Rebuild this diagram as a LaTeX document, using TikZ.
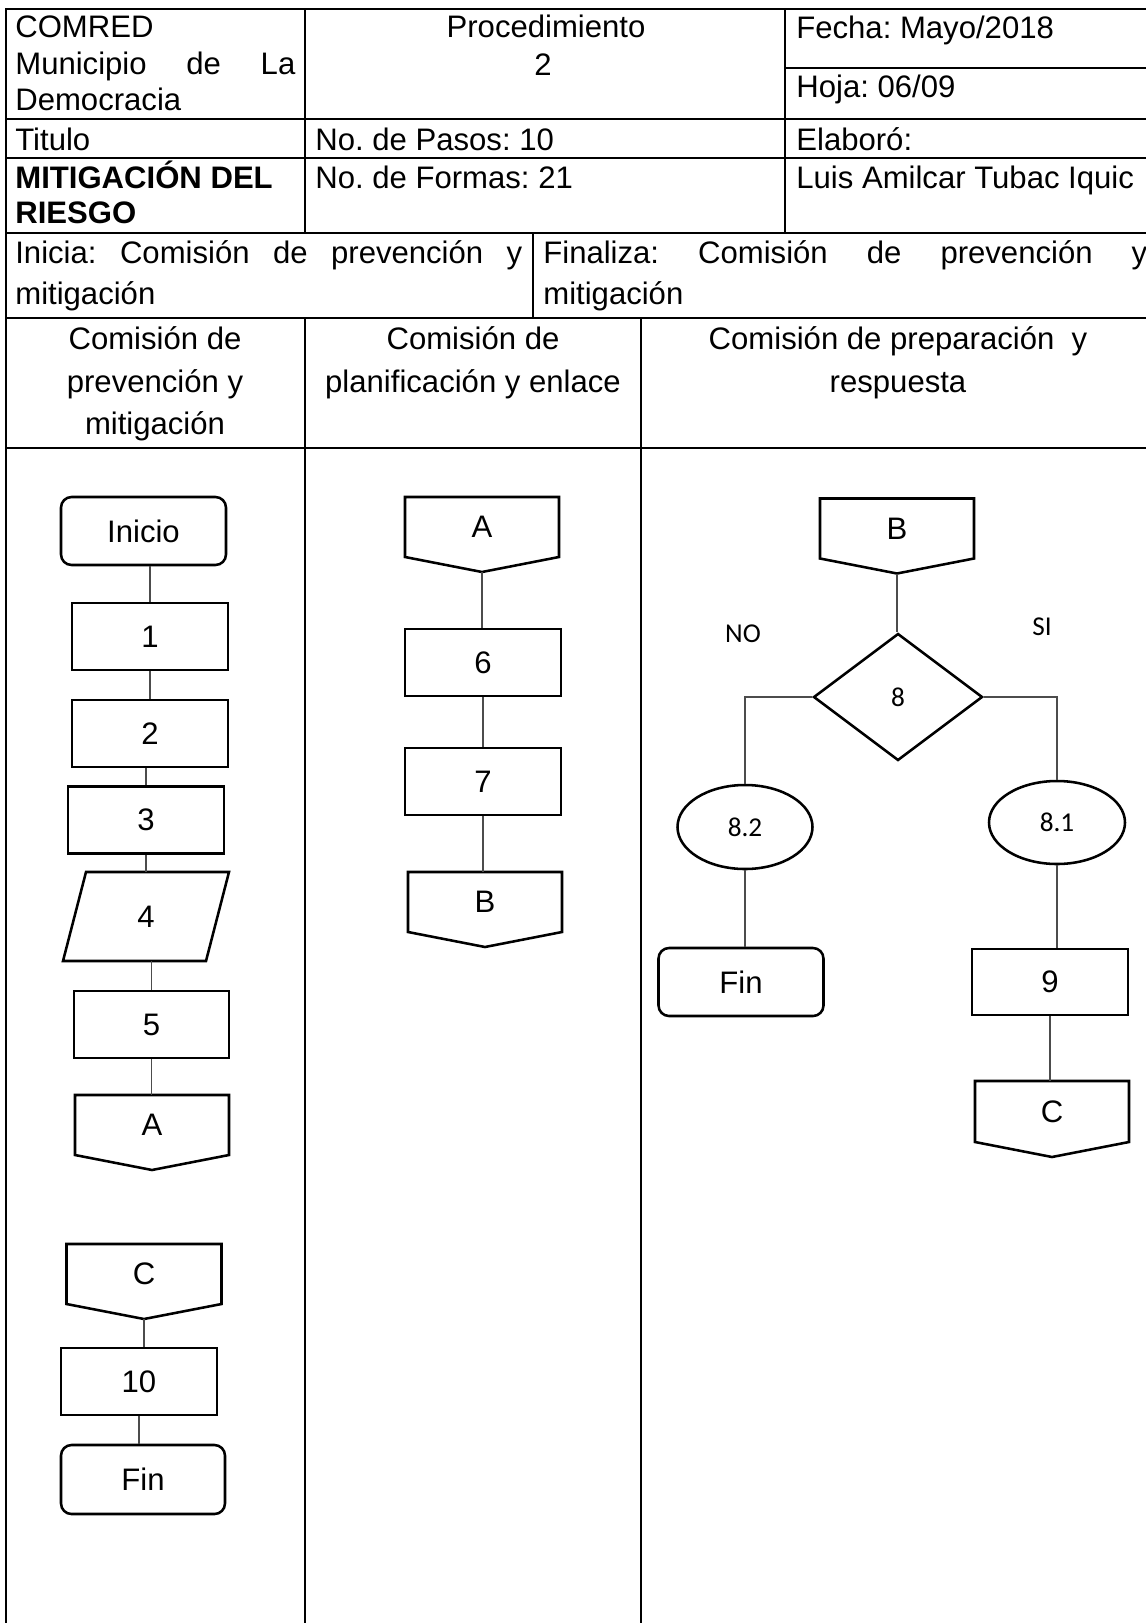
\documentclass[tikz,border=0pt]{standalone}
\usepackage{fontspec}
\setmainfont{Liberation Sans}
\newfontfamily\calibrifont{Carlito}
\usepackage{tikz}
\usetikzlibrary{shapes.geometric, positioning, calc}
\frenchspacing
\newlength{\px}
\setlength{\px}{0.02cm}
\newcommand{\tabfont}{\fontsize{17.7}{20.4}\selectfont}
\newcommand{\smallfont}{\calibrifont\fontsize{15.5}{18}\selectfont}
\tikzstyle{frame line} = [line width=1.5pt]
\tikzstyle{celltext} = [inner sep=0pt, anchor=base west, font=\tabfont]
\tikzstyle{lanehead} = [inner sep=0pt, anchor=base, font=\tabfont]
\tikzstyle{shape line} = [line width=1.45pt]
\tikzstyle{process} = [rectangle, draw, line width=1.45pt, inner sep=0pt, minimum width=156*\px, minimum height=67*\px, font=\tabfont]
\tikzstyle{terminal} = [process, rounded corners=6pt, minimum width=165*\px, minimum height=68*\px]
\tikzstyle{offpage} = [rectangle, inner sep=0pt, outer sep=0pt, minimum width=154*\px, minimum height=60*\px, font=\tabfont]
\tikzstyle{iobox} = [rectangle, inner sep=0pt, outer sep=0pt, minimum width=166*\px, minimum height=89*\px, font=\tabfont]
\tikzstyle{decision} = [diamond, draw, line width=1.45pt, inner sep=0pt, minimum width=169*\px, minimum height=127*\px, font=\smallfont]
\tikzstyle{result} = [ellipse, draw, line width=1.45pt, inner sep=0pt, minimum width=135*\px, minimum height=84*\px, font=\smallfont]
\tikzstyle{connector} = [draw=black!70, line width=0.6pt]

\begin{document}
\begin{tikzpicture}[x=\px, y=-\px, >=stealth]
    \useasboundingbox (0,0) rectangle (1146,1623);
    \fill[white] (0,0) rectangle (1146,1623);
    \clip (0,0) rectangle (1146,1623);

    % tabla
    \draw[frame line] (6,9) rectangle (1157,1650);
    \foreach \y in {119,158,233,318,448}
        \draw[frame line] (6,\y) -- (1157,\y);
    \draw[frame line] (785,68) -- (1157,68);
    \draw[frame line] (305,9) -- (305,233);
    \draw[frame line] (785,9) -- (785,233);
    \draw[frame line] (533,233) -- (533,318);
    \draw[frame line] (305,318) -- (305,1650);
    \draw[frame line] (641,318) -- (641,1650);

    \node[celltext] (comred) at (15,37) {COMRED};
    \node[celltext] (muni) at (15,74) {\makebox[280\px][s]{Municipio de La}};
    \node[celltext] (demo) at (15,110) {Democracia};
    \node[celltext, anchor=base] (proc) at (546,37) {Procedimiento};
    \node[celltext, anchor=base] (procnum) at (543,75) {2};
    \node[celltext] (fecha) at (796,38) {Fecha: Mayo/2018};
    \node[celltext] (hoja) at (796,97) {Hoja: 06/09};
    \node[celltext] (titulo) at (15,150) {Titulo};
    \node[celltext] (pasos) at (315,150) {No. de Pasos: 10};
    \node[celltext] (elaboro) at (796,150) {Elaboró:};
    \node[celltext, font=\tabfont\bfseries] (titulo1) at (15,188) {MITIGACIÓN DEL};
    \node[celltext, font=\tabfont\bfseries] (titulo2) at (15,223) {RIESGO};
    \node[celltext] (formas) at (315,188) {No. de Formas: 21};
    \node[celltext] (autor) at (796,188) {Luis Amilcar Tubac Iquic};
    \node[celltext] (inicia) at (15,263) {\makebox[507\px][s]{Inicia: Comisión de prevención y}};
    \node[celltext] (inicia2) at (15,304) {mitigación};
    \node[celltext] (finaliza) at (543,263) {\makebox[604\px][s]{Finaliza: Comisión de prevención y}};
    \node[celltext] (finaliza2) at (543,304) {mitigación};

    % carriles
    \node[lanehead] (laneA1) at (155,349) {Comisión de};
    \node[lanehead] (laneA2) at (155,392) {prevención y};
    \node[lanehead] (laneA3) at (155,434) {mitigación};
    \node[lanehead] (laneB1) at (473,349) {Comisión de};
    \node[lanehead] (laneB2) at (473,392) {planificación y enlace};
    \node[lanehead] (laneC1) at (898,349) {Comisión de preparación\ \ y};
    \node[lanehead] (laneC2) at (898,392) {respuesta};

    % comision de prevencion y mitigacion
    \node[terminal] (inicio) at (143.5,531) {Inicio};
    \node[process] (s1) at (150,636.5) {1};
    \node[process] (s2) at (150,733.5) {2};
    \node[process] (s3) at (146,820) {3};
    \node[iobox] (s4) at (146,916.5) {4};
    \node[process, minimum width=155*\px] (s5) at (151.5,1024.5) {5};
    \node[offpage] (offA1) at (152,1125) {A};
    \node[offpage, minimum width=155*\px] (offC1) at (144,1274) {C};
    \node[process] (s10) at (139,1381.5) {10};
    \node[terminal, minimum width=164*\px, minimum height=69*\px] (fin1) at (143,1479.5) {Fin};

    % comision de planificacion y enlace
    \node[offpage] (offA2) at (482,527) {A};
    \node[process] (s6) at (483,662.5) {6};
    \node[process] (s7) at (483,781.5) {7};
    \node[offpage] (offB1) at (485,902) {B};

    % comision de preparacion y respuesta
    \node[offpage] (offB2) at (897,528.5) {B};
    \node[decision] (d8) at (898,697) {8};
    \node[font=\smallfont] (no) at (743,634) {NO};
    \node[font=\smallfont] (si) at (1042,627) {SI};
    \node[result] (e82) at (745,827) {8.2};
    \node[result, minimum width=136*\px, minimum height=83*\px] (e81) at (1057,822.5) {8.1};
    \node[terminal] (fin2) at (741,982) {Fin};
    \node[process, minimum height=66*\px] (s9) at (1050,982) {9};
    \node[offpage, minimum height=61*\px] (offC2) at (1052,1111.5) {C};

    \draw[shape line] ([xshift=23*\px]s4.north west) -- (s4.north east)
        -- ([xshift=-23*\px]s4.south east) -- (s4.south west) -- cycle;
    \foreach \n in {offA1,offC1,offA2,offB1,offB2,offC2}
        \draw[shape line] (\n.north west) -- (\n.north east) -- (\n.south east)
            -- ([yshift=-15*\px]\n.south) -- (\n.south west) -- cycle;

    % conectores
    \foreach \a/\b in {inicio/s1, s1/s2, s2/s3, s3/s4, s4/s5}
        \draw[connector] (\b.north) -- (\b.north |- \a.south);
    \draw[connector] (s5.south) -- (s5.south |- offA1.north);
    \draw[connector] ([yshift=-15*\px]offC1.south) -- (offC1.south |- s10.north);
    \draw[connector] (s10.south) -- (s10.south |- fin1.north);

    \draw[connector] ([yshift=-15*\px]offA2.south) -- (offA2.south |- s6.north);
    \draw[connector] (s6.south) -- (s6.south |- s7.north);
    \draw[connector] (s7.south) -- (s7.south |- offB1.north);

    \draw[connector] ([yshift=-15*\px]offB2.south) -- (offB2.south |- d8.north);
    \draw[connector] (d8.west) -| (e82.north);
    \draw[connector] (d8.east) -| (e81.north);
    \draw[connector] (e82.south) -- (e82.south |- fin2.north);
    \draw[connector] (e81.south) -- (e81.south |- s9.north);
    \draw[connector] (s9.south) -- (s9.south |- offC2.north);
\end{tikzpicture}
\end{document}
